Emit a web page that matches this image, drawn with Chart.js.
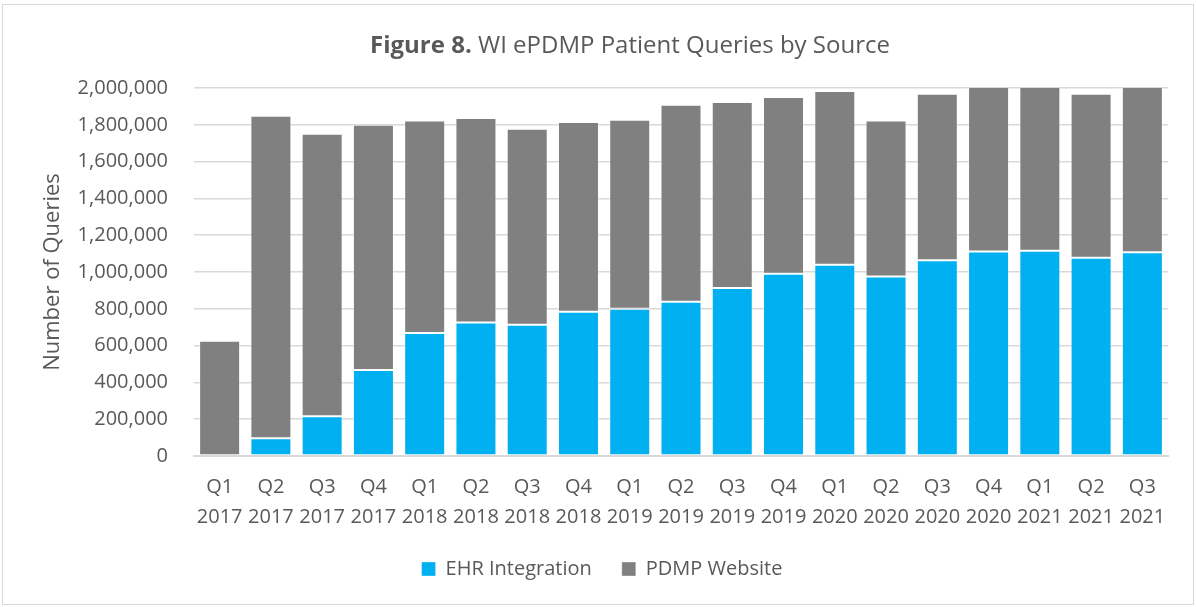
<!DOCTYPE html>
<html>
<head>
<meta charset="utf-8">
<title>WI ePDMP Patient Queries by Source</title>
<script src="https://cdn.jsdelivr.net/npm/chart.js@4.4.0/dist/chart.umd.min.js"></script>
<style>
  html, body { margin: 0; padding: 0; background: #fff; }
  #wrap { position: relative; width: 1196px; height: 607px; }
</style>
</head>
<body>
<div id="wrap"><canvas id="chart" width="1196" height="607"></canvas></div>
<script>
'use strict';

// ===== Data =====
const QUARTERS = ["Q1","Q2","Q3","Q4","Q1","Q2","Q3","Q4","Q1","Q2","Q3","Q4","Q1","Q2","Q3","Q4","Q1","Q2","Q3"];
const YEARS    = ["2017","2017","2017","2017","2018","2018","2018","2018","2019","2019","2019","2019","2020","2020","2020","2020","2021","2021","2021"];

const EHR_INTEGRATION = [0, 97000, 216000, 467000, 669000, 726000, 713000, 784000, 800000, 838000,
                         913000, 991000, 1040000, 975000, 1064000, 1111000, 1115000, 1078000, 1107000];
const PDMP_WEBSITE    = [627000, 1752000, 1535000, 1333000, 1155000, 1111000, 1065000, 1031000, 1027000, 1071000,
                         1011000, 960000, 944000, 849000, 905000, 899000, 895000, 891000, 903000];

const Y_MAX = 2000000;
const Y_STEP = 200000;

// ===== Style =====
const TEXT = '#595959';
const GRID = '#d9d9d9';
const BLUE = '#00b0f0';
const GRAY = '#808080';
const FONT = "'Open Sans', 'Noto Sans', sans-serif";

// title: bold "Figure 8." + regular rest, and the thin frame round the whole chart
const frameAndTitle = {
  id: 'frameAndTitle',
  beforeDraw(chart){
    const ctx = chart.ctx;
    ctx.save();
    ctx.fillStyle = '#fff';
    ctx.fillRect(0, 0, chart.width, chart.height);
    ctx.strokeStyle = GRID;
    ctx.lineWidth = 1;
    ctx.strokeRect(2.5, 4.5, chart.width - 5, chart.height - 7);
    ctx.restore();
  },
  afterDraw(chart){
    const ctx = chart.ctx;
    const boldPart = 'Figure 8.';
    const restPart = ' WI ePDMP Patient Queries by Source';
    ctx.save();
    ctx.fillStyle = TEXT;
    ctx.textBaseline = 'middle';
    ctx.font = `bold 24px ${FONT}`;
    const w1 = ctx.measureText(boldPart).width;
    ctx.font = `24px ${FONT}`;
    const w2 = ctx.measureText(restPart).width;
    const x0 = 630 - (w1 + w2) / 2;
    ctx.font = `bold 24px ${FONT}`;
    ctx.fillText(boldPart, x0, 46);
    ctx.font = `24px ${FONT}`;
    ctx.fillText(restPart, x0 + w1, 46);
    ctx.restore();
  }
};

const labels = QUARTERS.map((q, i) => [q, YEARS[i]]);

new Chart(document.getElementById('chart'), {
  type: 'bar',
  data: {
    labels,
    datasets: [
      {
        label: 'EHR Integration',
        data: EHR_INTEGRATION,
        backgroundColor: BLUE,
        borderColor: 'rgba(255,255,255,0.35)',
        borderWidth: 1,
        borderSkipped: false,
        barPercentage: 0.8,
        categoryPercentage: 1.0
      },
      {
        label: 'PDMP Website',
        data: PDMP_WEBSITE,
        backgroundColor: GRAY,
        borderColor: 'rgba(255,255,255,0.35)',
        borderWidth: 1,
        borderSkipped: false,
        barPercentage: 0.8,
        categoryPercentage: 1.0
      }
    ]
  },
  options: {
    responsive: false,
    animation: false,
    layout: { padding: { top: 88, left: 36, right: 28, bottom: 18 } },
    plugins: {
      legend: {
        position: 'bottom',
        labels: {
          color: TEXT,
          font: { family: FONT, size: 20 },
          boxWidth: 14,
          boxHeight: 14,
          padding: 30
        }
      },
      tooltip: { enabled: false }
    },
    scales: {
      x: {
        stacked: true,
        grid: { display: false, drawTicks: false },
        border: { display: true, color: GRID, width: 2 },
        ticks: {
          color: TEXT,
          font: { family: FONT, size: 20, lineHeight: 1.5 },
          padding: 16,
          maxRotation: 0,
          autoSkip: false
        },
        afterFit(scale){ scale.height = 73; }
      },
      y: {
        stacked: true,
        min: 0,
        max: Y_MAX,
        grid: { color: GRID, lineWidth: 1.5, drawTicks: false },
        border: { display: false },
        ticks: {
          stepSize: Y_STEP,
          color: TEXT,
          font: { family: FONT, size: 20 },
          padding: 26,
          callback: v => Number(v).toLocaleString('en-US')
        },
        title: {
          display: true,
          text: 'Number of Queries',
          color: TEXT,
          font: { family: FONT, size: 22 },
          padding: { top: 4, bottom: 4 }
        },
        afterFit(scale){ scale.width = 158; }
      }
    }
  },
  plugins: [frameAndTitle]
});
</script>
</body>
</html>
